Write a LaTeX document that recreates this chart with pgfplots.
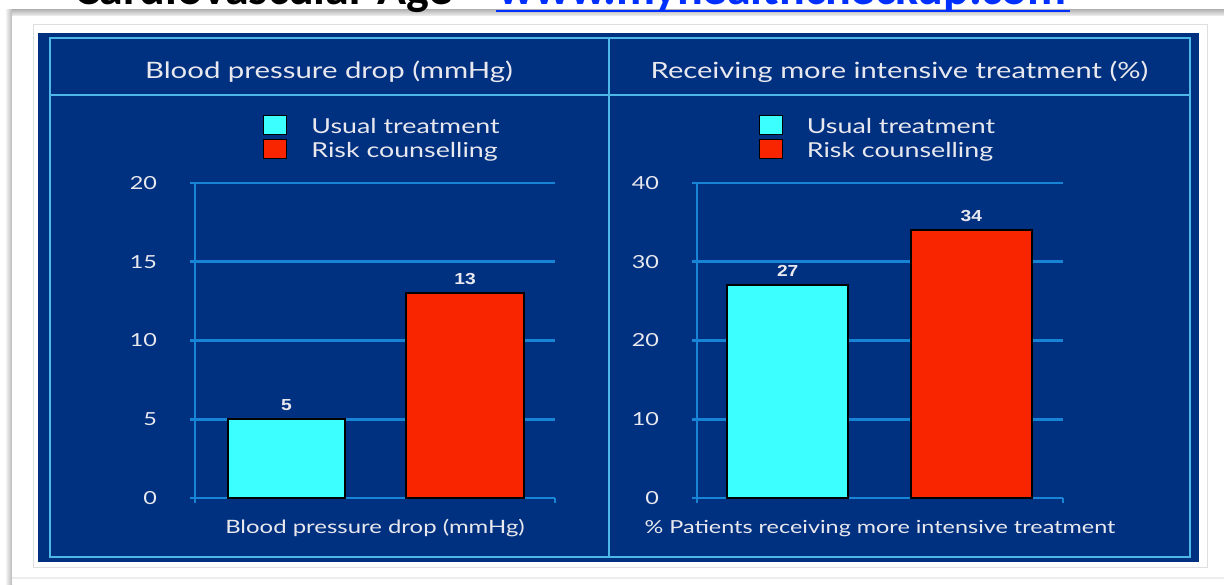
\documentclass[border=0pt]{standalone}
\usepackage{fontspec}
\usepackage{pgfplots}
\pgfplotsset{compat=1.18}
\setmainfont{Lato}[FakeStretch=1.3]
\newfontfamily\valfont{Liberation Sans}[FakeStretch=1.2]
\newfontfamily\titlefont{Carlito}

\definecolor{panelblue}{HTML}{003080}
\definecolor{bordercyan}{HTML}{4DB8E8}
\definecolor{gridblue}{HTML}{1784D6}
\definecolor{textgray}{HTML}{E8E8EE}
\definecolor{cyanbar}{HTML}{3CFFFF}
\definecolor{redbar}{HTML}{F92500}
\definecolor{linkblue}{HTML}{0030FF}

\pgfplotsset{
  panel axis/.style={
    scale only axis, anchor=south west, clip=false,
    axis lines*=left,
    axis line style={gridblue, line width=1.4pt, -},
    ymajorgrids, grid style={gridblue, line width=1.4pt},
    major tick style={gridblue, line width=1.4pt},
    tick align=outside, major tick length=2.5pt,
    xticklabels={},
    /pgf/number format/assume math mode=true,
    ticklabel style={font=\fontsize{9}{10}\selectfont, text=textgray},
    yticklabel style={xshift=-13pt},
    xlabel style={at={(axis description cs:0.5,0)}, anchor=base,
      yshift=-17.5pt, text=textgray},
    legend style={anchor=north west, draw=none, fill=none, inner sep=0pt,
      row sep=1pt, font=\fontsize{10.3}{11}\selectfont, text=textgray,
      nodes={inner sep=0pt, text height=7.5pt, text depth=2pt},
      /tikz/every odd column/.append style={column sep=12pt}},
    legend cell align=left,
    nodes near coords,
    nodes near coords style={font=\valfont\bfseries\fontsize{8}{9}\selectfont,
      text=textgray, inner sep=0pt, anchor=south, yshift=4pt},
  },
  panel bar/.style 2 args={ybar, bar width=#2, bar shift=0pt,
    fill=#1, draw=black, line width=1pt,
    legend image code/.code={\draw[fill=#1, draw=black, line width=0.5pt]
      (0pt,-3.5pt) rectangle (11.5pt,6pt);}},
}

\begin{document}
\begin{tikzpicture}[x=0.5pt,y=0.5pt]
% page is 1224 x 584 units, y measured upwards from the bottom edge
\path[use as bounding box] (0,0) rectangle (1224,584);
\clip (0,0) rectangle (1224,584);
\fill[white] (0,0) rectangle (1224,584);
% slide shadow along the top and left edges
\shade[bottom color=gray!10, top color=gray!55] (8,574) rectangle (1224,568);
\shade[left color=gray!10, right color=gray!55] (6,574) rectangle (12,0);
\fill[white] (12,568) rectangle (1224,0);
\draw[gray!15, line width=1pt] (12,6) -- (1224,6);

% slide title, cut by the top edge
\node[anchor=base west, inner sep=0pt, font=\titlefont\bfseries\fontsize{24}{28}\selectfont]
  at (74,579) {Cardiovascular Age – \textcolor{linkblue}{www.myhealthcheckup.com}};
\draw[linkblue, line width=1pt] (496,572.5) -- (1070,572.5);

% picture frame and dark panel
\draw[gray!25, line width=0.5pt] (33,559) rectangle (1207,17);
\fill[panelblue] (38,551) rectangle (1199,22);
\draw[bordercyan, line width=1pt] (49.5,545.5) rectangle (1190,27);
\draw[bordercyan, line width=1pt] (49.5,489) -- (1190,489);
\draw[bordercyan, line width=1pt] (609,545.5) -- (609,27);

% panel headings
\node[anchor=base, text=textgray, font=\fontsize{11.3}{12}\selectfont]
  at (329,505) {Blood pressure drop (mmHg)};
\node[anchor=base, text=textgray, font=\fontsize{11.2}{12}\selectfont]
  at (899.5,505) {Receiving more intensive treatment (\%)};

% left chart: blood pressure drop
\begin{axis}[panel axis, at={(97.5pt,43pt)}, width=180pt, height=157.5pt,
  xmin=-0.5126, xmax=1.504, ymin=0, ymax=20,
  xtick={-0.5126,1.504}, ytick={0,5,10,15,20},
  xlabel={Blood pressure drop (mmHg)},
  xlabel style={font=\fontsize{9.2}{10}\selectfont},
  legend style={at={(0.189,1.2159)}}]
\addplot[panel bar={cyanbar}{0.65}] coordinates {(0,5)};
\addlegendentry{Usual treatment}
\addplot[panel bar={redbar}{0.66}] coordinates {(1,13)};
\addlegendentry{Risk counselling}
\end{axis}

% right chart: patients receiving more intensive treatment
\begin{axis}[panel axis, at={(348.5pt,43pt)}, width=183pt, height=157.5pt,
  xmin=-0.494, xmax=1.499, ymin=0, ymax=40,
  xtick={-0.494,1.499}, ytick={0,10,20,30,40},
  xlabel={\% Patients receiving more intensive treatment},
  xlabel style={font=\fontsize{9}{10}\selectfont},
  legend style={at={(0.168,1.2159)}}]
\addplot[panel bar={cyanbar}{0.656}] coordinates {(0,27)};
\addlegendentry{Usual treatment}
\addplot[panel bar={redbar}{0.66}] coordinates {(1,34)};
\addlegendentry{Risk counselling}
\end{axis}
\end{tikzpicture}
\end{document}
